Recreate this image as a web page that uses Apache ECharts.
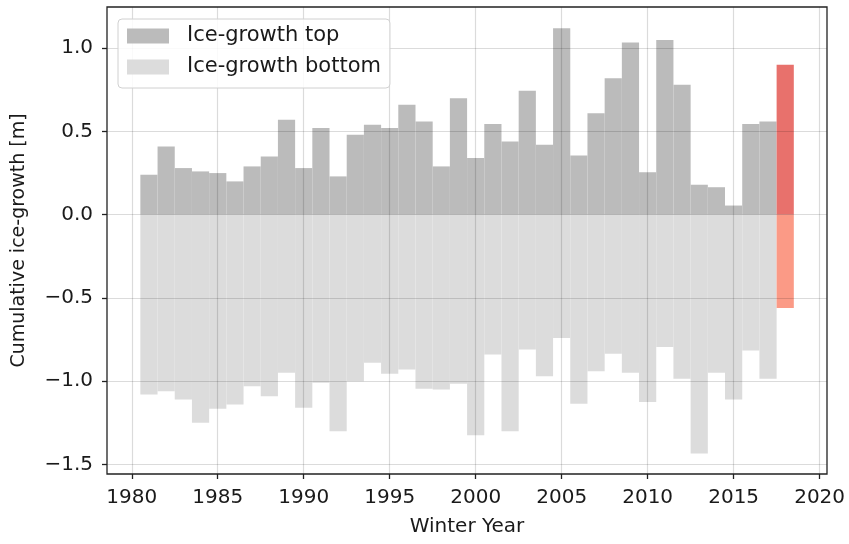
<!DOCTYPE html>
<html>
<head>
<meta charset="utf-8">
<script src="https://cdn.jsdelivr.net/npm/echarts@6/dist/echarts.min.js"></script>
<style>html,body{margin:0;padding:0;background:#fff}#c{width:849px;height:544px}</style>
</head>
<body>
<div id="c"></div>
<script>
const years = [1981,1982,1983,1984,1985,1986,1987,1988,1989,1990,1991,1992,1993,1994,1995,1996,1997,1998,1999,2000,2001,2002,2003,2004,2005,2006,2007,2008,2009,2010,2011,2012,2013,2014,2015,2016,2017,2018];
const growthTop = [0.24,0.41,0.28,0.26,0.25,0.20,0.29,0.35,0.57,0.28,0.52,0.23,0.48,0.54,0.52,0.66,0.56,0.29,0.70,0.34,0.545,0.44,0.745,0.42,1.12,0.355,0.61,0.82,1.035,0.255,1.05,0.78,0.18,0.165,0.055,0.545,0.56,0.90];
const growthBottom = [-1.08,-1.06,-1.11,-1.25,-1.165,-1.14,-1.03,-1.09,-0.95,-1.16,-1.01,-1.30,-1.00,-0.89,-0.955,-0.93,-1.045,-1.05,-1.015,-1.325,-0.84,-1.30,-0.81,-0.97,-0.74,-1.135,-0.94,-0.835,-0.95,-1.125,-0.795,-0.985,-1.435,-0.95,-1.11,-0.815,-0.985,-0.56];
const currentYear = 2018;
const xTicks = [1980,1985,1990,1995,2000,2005,2010,2015,2020];
const yTicks = [-1.5,-1.0,-0.5,0.0,0.5,1.0];

const font = 'DejaVu Sans';
function makeRender(curColor) {
  return function (params, api) {
    const x = api.value(0), v = api.value(1);
    const p0 = api.coord([x - 0.5, 0]);
    const p1 = api.coord([x + 0.5, v]);
    const fill = x === currentYear ? curColor : api.visual('color');
    return {
      type: 'rect',
      shape: { x: p0[0], y: Math.min(p0[1], p1[1]), width: p1[0] - p0[0], height: Math.abs(p1[1] - p0[1]) },
      style: { fill: fill }
    };
  };
}
const gridLine = { show: true, lineStyle: { color: 'rgba(0,0,0,0.14)', width: 1.2 } };
const chart = echarts.init(document.getElementById('c'), null, { renderer: 'canvas' });
chart.setOption({
  animation: false,
  grid: { left: 107, right: 22, top: 7, bottom: 70, show: true, borderColor: '#222', borderWidth: 1.3, backgroundColor: 'transparent', z: 20 },
  xAxis: {
    type: 'value', min: 1978.56, max: 2020.43, z: 10,
    name: 'Winter Year', nameLocation: 'middle', nameGap: 43,
    nameTextStyle: { fontFamily: font, fontSize: 20, color: '#1a1a1a' },
    axisLine: { show: false, onZero: false },
    axisTick: { show: true, length: 5, inside: false, customValues: xTicks, lineStyle: { color: '#222', width: 1.3 } },
    axisLabel: { customValues: xTicks, margin: 14, fontFamily: font, fontSize: 20, color: '#1a1a1a', formatter: v => String(v) },
    splitLine: gridLine
  },
  yAxis: {
    type: 'value', min: -1.5575, max: 1.2475, z: 10,
    name: 'Cumulative ice-growth [m]', nameLocation: 'middle', nameGap: 78,
    nameTextStyle: { fontFamily: font, fontSize: 19, color: '#1a1a1a' },
    axisLine: { show: false, onZero: false },
    axisTick: { show: true, length: 5, customValues: yTicks, lineStyle: { color: '#222', width: 1.3 } },
    axisLabel: { customValues: yTicks, margin: 14, fontFamily: font, fontSize: 20, color: '#1a1a1a',
      formatter: v => (v < 0 ? '\u2212' : '') + Math.abs(v).toFixed(1) },
    splitLine: gridLine
  },
  legend: {
    orient: 'vertical', left: 118, top: 19,
    padding: [6, 9, 10, 9], itemGap: 9, itemWidth: 42, itemHeight: 15,
    borderColor: '#d0d0d0', borderWidth: 1, borderRadius: 4, backgroundColor: 'rgba(255,255,255,0.85)',
    textStyle: { fontFamily: font, fontSize: 21, color: '#1a1a1a', lineHeight: 22, padding: [0, 0, 0, 13] },
    data: [{ name: 'Ice-growth top', icon: 'rect' }, { name: 'Ice-growth bottom', icon: 'rect' }],
    z: 30
  },
  series: [
    { name: 'Ice-growth top', type: 'custom', renderItem: makeRender('#e8716c'),
      itemStyle: { color: '#bbbbbb' }, encode: { x: 0, y: 1 },
      data: years.map((y, i) => [y, growthTop[i]]), z: 2 },
    { name: 'Ice-growth bottom', type: 'custom', renderItem: makeRender('#fb9a86'),
      itemStyle: { color: '#dcdcdc' }, encode: { x: 0, y: 1 },
      data: years.map((y, i) => [y, growthBottom[i]]), z: 2 }
  ]
});
</script>
</body>
</html>
